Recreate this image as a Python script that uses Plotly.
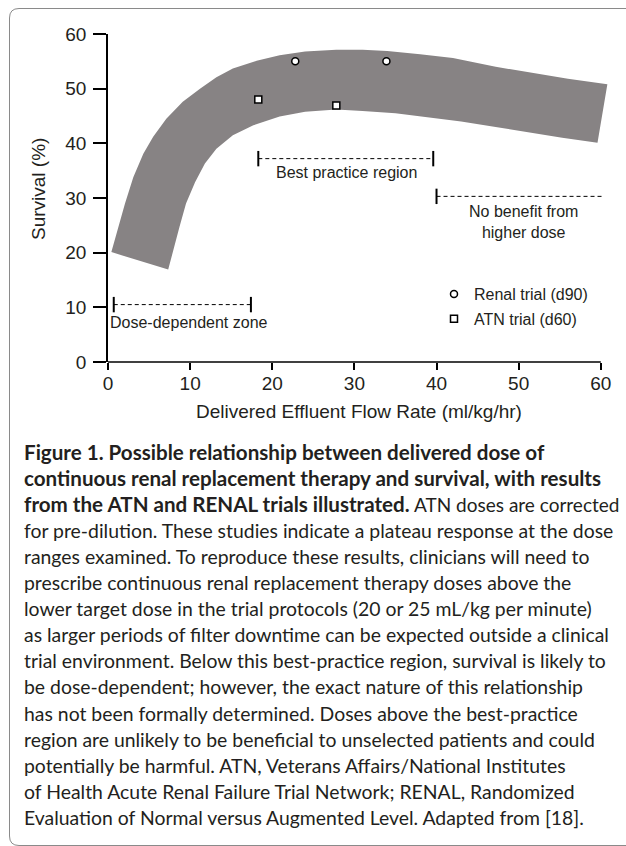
import plotly.graph_objects as go

# ---------------- data ----------------
band_upper_x = [0.41, 1.25, 2.07, 3.08, 4.3, 5.5, 7.1, 9.1, 11.2, 13.2, 15.2, 18.1, 20.9, 24.0, 27.8, 31.0, 34.0, 38.0, 42.0, 47.2, 52.0, 56.0, 60.8]
band_upper_y = [20.1, 24.7, 29.0, 33.8, 38.1, 41.2, 44.5, 47.6, 50.0, 52.1, 53.7, 55.1, 56.1, 56.8, 57.1, 57.1, 56.9, 56.3, 55.6, 54.0, 52.8, 51.8, 50.8]
band_lower_x = [59.6, 55.3, 51.0, 47.2, 43.0, 39.0, 35.0, 31.0, 27.8, 24.0, 20.9, 17.7, 15.2, 13.2, 11.8, 10.6, 9.5, 8.7, 7.9, 7.33]
band_lower_y = [40.1, 41.0, 42.1, 43.0, 44.0, 44.8, 45.5, 45.9, 46.2, 45.8, 44.9, 43.3, 41.5, 39.0, 36.3, 32.9, 29.0, 24.7, 20.4, 16.9]

renal_x = [22.8, 33.9]
renal_y = [55.0, 55.0]
atn_x = [18.3, 27.8]
atn_y = [48.0, 46.9]

best_x = [18.3, 39.6]
best_y = [37.2, 37.2]
nobenefit_x = [40.0, 60.4]
nobenefit_y = [30.3, 30.3]
dose_x = [0.7, 17.4]
dose_y = [10.5, 10.5]

x_ticks = [0, 10, 20, 30, 40, 50, 60]
y_ticks = [0, 10, 20, 30, 40, 50, 60]

caption_bold = [
    "Figure 1. Possible relationship between delivered dose of",
    "continuous renal replacement therapy and survival, with results",
    "from the ATN and RENAL trials illustrated.",
]
caption_rest = [
    "ATN doses are corrected",
    "for pre-dilution. These studies indicate a plateau response at the dose",
    "ranges examined. To reproduce these results, clinicians will need to",
    "prescribe continuous renal replacement therapy doses above the",
    "lower target dose in the trial protocols (20 or 25 mL/kg per minute)",
    "as larger periods of filter downtime can be expected outside a clinical",
    "trial environment. Below this best-practice region, survival is likely to",
    "be dose-dependent; however, the exact nature of this relationship",
    "has not been formally determined. Doses above the best-practice",
    "region are unlikely to be beneficial to unselected patients and could",
    "potentially be harmful. ATN, Veterans Affairs/National Institutes",
    "of Health Acute Renal Failure Trial Network; RENAL, Randomized",
    "Evaluation of Normal versus Augmented Level. Adapted from [18].",
]

# ---------------- layout constants ----------------
W, H = 626, 846
L, R, T, B = 108, 17, 34, 484
PW, PH = W - L - R, H - T - B
TXT = "#231f20"
FONT = "Liberation Sans, Arial, sans-serif"
CAP_FONT = "Lato, sans-serif"
CAP_TOP, CAP_STEP, CAP_LEFT = 452, 26.1, 22


def px(x):
    return (x - L) / PW


def py(y):
    return 1 - (y - T) / PH


fig = go.Figure()

# band
fig.add_trace(go.Scatter(
    x=band_upper_x + band_lower_x, y=band_upper_y + band_lower_y,
    mode="lines", fill="toself", fillcolor="#878384",
    line=dict(width=0, color="#878384"), showlegend=False, hoverinfo="skip"))

# zone lines
for xs, ys, caps in [(best_x, best_y, 2), (nobenefit_x, nobenefit_y, 1), (dose_x, dose_y, 2)]:
    fig.add_trace(go.Scatter(x=xs, y=ys, mode="lines",
                             line=dict(color="black", width=1, dash="4px,3px"),
                             showlegend=False, hoverinfo="skip"))
    fig.add_trace(go.Scatter(x=xs[:caps], y=ys[:caps], mode="markers",
                             marker=dict(symbol="line-ns", size=11,
                                         line=dict(color="black", width=2)),
                             showlegend=False, hoverinfo="skip"))

# trials
fig.add_trace(go.Scatter(x=renal_x, y=renal_y, mode="markers", name="Renal trial (d90)",
                         marker=dict(symbol="circle", size=7, color="white",
                                     line=dict(color="black", width=1.5)),
                         legendgroup="a"))
fig.add_trace(go.Scatter(x=atn_x, y=atn_y, mode="markers", name="ATN trial (d60)",
                         marker=dict(symbol="square", size=7, color="white",
                                     line=dict(color="black", width=1.5)),
                         legendgroup="b"))

annotations = [
    dict(x=29.0, y=34.6, xref="x", yref="y", text="Best practice region",
         xanchor="center", yanchor="middle",
         showarrow=False, font=dict(size=16, color=TXT, family=FONT)),
    dict(x=50.6, y=25.6, xref="x", yref="y", text="No benefit from<br>higher dose",
         xanchor="center", yanchor="middle",
         showarrow=False, font=dict(size=16, color=TXT, family=FONT)),
    dict(x=0, y=7.3, xref="x", yref="y", text="Dose-dependent zone",
         xanchor="left", yanchor="middle",
         showarrow=False, font=dict(size=16, color=TXT, family=FONT)),
    dict(x=px(359), y=py(411), xref="paper", yref="paper",
         text="Delivered Effluent Flow Rate (ml/kg/hr)", showarrow=False,
         xanchor="center", yanchor="middle",
         font=dict(size=19, color=TXT, family=FONT)),
    dict(x=px(38), y=py(189), xref="paper", yref="paper", text="Survival (%)",
         xanchor="center", yanchor="middle",
         textangle=-90, showarrow=False, font=dict(size=19, color=TXT, family=FONT)),
]
for i, line in enumerate(caption_bold):
    annotations.append(dict(
        x=px(CAP_LEFT), y=py(CAP_TOP + i * CAP_STEP), xref="paper", yref="paper",
        text="<b>" + line + "</b>", xanchor="left", yanchor="middle", showarrow=False,
        font=dict(size=20.6, color=TXT, family=CAP_FONT)))
for j, line in enumerate(caption_rest):
    i = j + 2
    annotations.append(dict(
        x=px(412 if j == 0 else CAP_LEFT), y=py(CAP_TOP + i * CAP_STEP),
        xref="paper", yref="paper",
        text=line, xanchor="left", yanchor="middle", showarrow=False,
        font=dict(size=(19.0 if j == 0 else 19.4), color=TXT, family=CAP_FONT)))

shapes = [
    # x axis line (stops at 60)
    dict(type="line", xref="paper", yref="paper", x0=0, x1=60 / 61, y0=0, y1=0,
         line=dict(color="black", width=1.5)),
    # rounded frame
    dict(type="path", xref="paper", yref="paper",
         path=(f"M {px(640)} {py(8.5)} L {px(19)} {py(8.5)} "
               f"Q {px(9.5)} {py(8.5)} {px(9.5)} {py(18)} "
               f"L {px(9.5)} {py(836)} Q {px(9.5)} {py(845.5)} {px(19)} {py(845.5)} "
               f"L {px(640)} {py(845.5)}"),
         line=dict(color="#8a8a8a", width=1)),
]

fig.update_layout(
    width=W, height=H, margin=dict(l=L, r=R, t=T, b=B),
    paper_bgcolor="white", plot_bgcolor="white",
    font=dict(family=FONT, color=TXT),
    xaxis=dict(range=[0, 61], tickvals=x_ticks, showline=False, showgrid=False,
               zeroline=False, ticks="outside", ticklen=7, tickwidth=1.5,
               ticklabelstandoff=-3,
               tickcolor="black", tickfont=dict(size=19, color=TXT, family=FONT)),
    yaxis=dict(range=[0, 60], tickvals=y_ticks, showline=True, linecolor="black",
               linewidth=1.5, showgrid=False, zeroline=False, ticks="outside",
               ticklen=13, tickwidth=1.5, tickcolor="black", ticklabelstandoff=3,
               tickfont=dict(size=19, color=TXT, family=FONT)),
    legend=dict(x=px(434), y=py(277), xanchor="left", yanchor="top",
                bgcolor="rgba(0,0,0,0)", font=dict(size=16, color=TXT, family=FONT),
                tracegroupgap=1),
    annotations=annotations, shapes=shapes,
)

fig.write_html("out.html", config={"displayModeBar": False},
               post_script="document.body.style.margin='0px';")
